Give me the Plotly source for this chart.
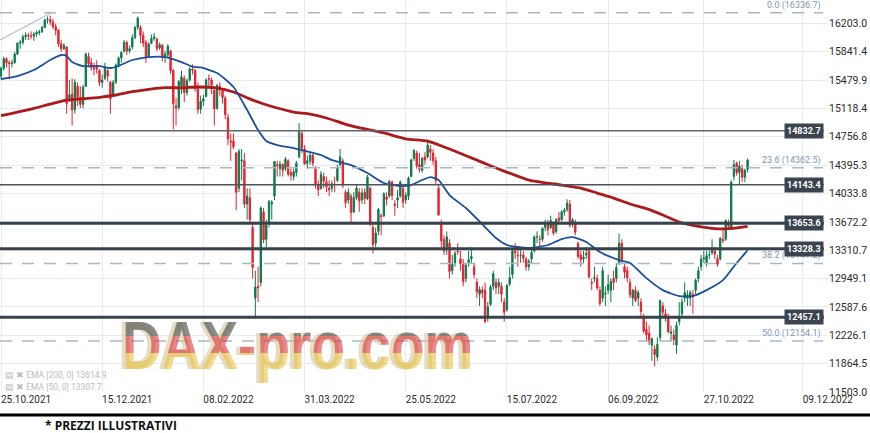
import plotly.graph_objects as go

# ---------------- data ----------------
opens = [15530,15630,15750,15700,15690,15700,15810,15950,15960,16030,
16050,16045,16040,16065,16085,16095,16150,16245,16250,16220,
16160,16110,15940,15880,15900,15250,15300,15100,15400,15260,
15170,15400,15780,15700,15640,15640,15600,15450,15500,15600,
15450,15300,15450,15670,15760,15850,15960,15850,15900,16020,
16150,16150,16050,15960,15780,15950,16010,16000,15890,15920,
15780,15800,15850,15600,15150,15130,15400,15500,15320,15480,
15620,15600,15370,15110,15210,15270,15500,15480,15350,15120,
15400,15350,15250,15000,14700,14700,14550,14100,14450,14450,
13900,13980,13600,12700,12850,12900,13800,13450,13650,13900,
14000,14400,14350,14400,14350,14450,14300,14250,14300,14500,
14800,14600,14420,14450,14520,14350,14150,14100,14250,14180,
14100,14100,14150,14200,14400,14450,14050,13950,14000,13800,
13980,14050,13950,14050,13970,14100,13600,13400,13550,13750,
13750,13990,14000,14180,13900,13950,14000,14100,13950,14000,
14250,14480,14550,14400,14330,14500,14500,14600,14550,14450,
14100,13650,13450,13350,13400,13050,13150,13300,13200,13150,
12950,13150,13200,13100,12900,12750,12800,12800,12450,12620,
12850,12900,12850,12850,12650,12550,12880,13000,13300,13250,
13250,13250,13200,13100,13200,13300,13480,13450,13450,13600,
13650,13600,13650,13550,13720,13700,13800,13830,13900,13650,
13650,13400,13250,13200,13250,13300,12900,12950,12950,12800,
12700,12750,12800,12800,12950,12950,13150,13400,13100,13050,
12900,12700,12800,12700,12650,12450,12300,12250,12100,12050,
11950,12200,12600,12500,12450,12250,12230,12100,12400,12500,
12700,12700,12700,12750,12800,12950,13100,13200,13150,13250,
13280,13300,13200,13200,13450,13450,13650,13600,14250,14420,
14300,14350,14240,14340]

highs = [15650,15780,15770,15730,15740,15840,15960,15990,16060,16090,
16080,16100,16090,16110,16120,16170,16260,16290,16300,16260,
16200,16130,15990,15950,15910,15480,15500,15490,15450,15400,
15420,15830,15830,15760,15700,15730,15620,15550,15700,15620,
15470,15480,15690,15780,15850,15990,15980,15920,16060,16170,
16290,16180,16100,15990,15960,16060,16080,16020,15960,15940,
15850,15940,15870,15620,15250,15480,15600,15540,15500,15650,
15680,15620,15450,15280,15290,15500,15550,15510,15360,15430,
15450,15360,15280,15050,14800,14800,14560,14600,14600,14550,
14100,14100,13650,13050,13100,13870,13850,13700,13950,13950,
14450,14450,14450,14420,14500,14470,14350,14350,14450,14930,
14830,14650,14520,14560,14540,14380,14200,14320,14300,14250,
14200,14200,14250,14400,14600,14480,14080,14100,14030,14050,
14150,14100,14100,14100,14270,14120,13650,13600,13850,13780,
14050,14050,14200,14200,13950,14080,14200,14120,14050,14250,
14480,14600,14580,14550,14500,14560,14720,14650,14600,14500,
14150,13700,13500,13550,13450,13250,13300,13400,13300,13200,
13150,13300,13350,13150,12950,12850,12850,12900,12650,12870,
13050,12950,12950,12900,12700,12880,13100,13320,13400,13350,
13320,13300,13220,13200,13350,13500,13550,13500,13600,13700,
13700,13750,13680,13720,13800,13820,13850,13960,13950,13720,
13700,13420,13300,13300,13350,13320,12950,13100,13000,12850,
13100,12850,13000,12950,13050,13150,13520,13450,13150,13100,
12950,12820,12850,12800,12700,12500,12400,12350,12200,12100,
12200,12680,12650,12560,12500,12350,12300,12400,12650,12700,
12900,12800,12800,12800,12950,13100,13250,13300,13300,13300,
13450,13350,13250,13480,13600,13700,13700,14200,14460,14440,
14450,14400,14350,14480]

lows = [15490,15600,15640,15490,15640,15690,15800,15880,15930,15990,
15990,16000,15980,16030,16050,16080,16140,16200,16180,16130,
16050,15900,15840,15860,15050,15200,14900,15050,15150,15120,
15120,15390,15640,15600,15540,15560,15400,15380,15480,15460,
15050,15280,15430,15640,15700,15830,15800,15820,15870,16000,
16120,15950,15900,15700,15760,15940,15980,15850,15860,15720,
15700,15760,15560,14850,14900,15100,15300,15200,15280,15460,
15550,15330,15050,15050,15150,15260,15380,15300,14900,15100,
15280,15180,14980,14650,14450,14600,13820,14050,14200,13850,
13700,13650,12950,12440,12650,12850,13400,13350,13600,13700,
13950,14250,14250,14250,14320,14250,14200,14200,14250,14480,
14550,14400,14350,14400,14380,14100,14000,14080,14100,14050,
14000,14050,14050,14180,14380,14100,13850,13900,13650,13780,
13950,13800,13900,13900,13950,13620,13270,13350,13500,13500,
13730,13880,13980,13950,13750,13850,13980,13850,13900,13950,
14240,14450,14350,14300,14300,14400,14480,14450,14400,14150,
13750,13350,13250,13250,12950,13000,13100,13250,13050,12850,
12900,13100,13150,12950,12700,12600,12700,12380,12400,12600,
12800,12750,12750,12650,12400,12530,12850,12950,13200,13100,
13150,13150,13050,13050,13150,13280,13400,13350,13420,13550,
13500,13580,13500,13520,13650,13680,13750,13800,13600,13600,
13500,13200,13100,13150,13200,12950,12800,12900,12800,12600,
12650,12600,12750,12650,12800,12900,13120,13150,12950,12900,
12700,12600,12650,12600,12450,12250,12150,12100,11900,11830,
11900,12150,12450,12400,12250,12150,12100,11990,12350,12450,
12650,12600,12600,12500,12750,12900,13050,13150,13100,13200,
13250,13200,13100,13180,13400,13430,13580,13580,14200,14260,
14150,14180,14180,14300]

closes = [15630,15750,15700,15690,15700,15810,15950,15960,16030,16050,
16045,16040,16065,16085,16095,16150,16245,16250,16220,16160,
16110,15940,15880,15920,15180,15290,15100,15450,15260,15170,
15390,15810,15690,15640,15620,15620,15450,15480,15640,15530,
15240,15450,15670,15760,15830,15960,15850,15880,16020,16150,
16270,16050,15950,15770,15940,16010,16030,15880,15930,15770,
15810,15910,15600,15180,15120,15460,15520,15320,15470,15620,
15610,15370,15100,15210,15240,15480,15490,15420,15110,15410,
15370,15260,15040,14730,14690,14630,14050,14570,14460,13900,
14000,13700,13090,12840,12830,13850,13440,13630,13930,13920,
14440,14390,14410,14330,14470,14280,14270,14310,14420,14820,
14610,14410,14450,14520,14420,14150,14080,14280,14190,14120,
14080,14160,14150,14360,14500,14140,13920,14050,13790,13980,
14100,13940,14040,13970,14240,13670,13380,13530,13830,13740,
14030,13960,14190,14010,13880,13980,14180,13920,14010,14230,
14460,14580,14390,14340,14480,14460,14650,14560,14450,14200,
13760,13430,13300,13480,13040,13130,13270,13290,13140,12910,
13120,13190,13230,13000,12780,12810,12770,12400,12590,12840,
13010,12830,12900,12750,12520,12860,12960,13300,13280,13240,
13250,13210,13100,13170,13280,13480,13480,13450,13590,13660,
13570,13690,13530,13700,13690,13800,13820,13910,13630,13700,
13540,13230,13190,13220,13270,12970,12890,12960,12830,12630,
13050,12760,12870,12910,12900,13090,13400,13190,13030,12960,
12740,12800,12670,12770,12530,12280,12230,12140,12180,11980,
12110,12670,12520,12470,12270,12270,12170,12350,12440,12650,
12770,12740,12770,12730,12930,13050,13200,13210,13240,13250,
13340,13260,13130,13460,13430,13690,13620,14180,14400,14300,
14380,14240,14330,14460]

# EMA lines (bar index, value)
ema200_idx = [0, 12, 18, 24, 30, 36, 42, 48, 54, 60, 66, 72, 79, 85, 91, 95, 101, 107, 113, 119,
              127, 134, 140, 148, 156, 164, 176, 183, 193, 205, 212, 218, 224, 230, 236, 242, 248,
              254, 260, 266, 273]
ema200_val = [15025, 15119, 15174, 15225, 15241, 15259, 15289, 15331, 15361, 15382, 15380, 15391,
              15378, 15327, 15240, 15187, 15123, 15072, 15046, 14996, 14906, 14850, 14805, 14730,
              14702, 14600, 14430, 14332, 14205, 14141, 14103, 14039, 13975, 13900, 13840, 13760,
              13670, 13620, 13590, 13585, 13615]
ema50_idx = [0, 6, 12, 18, 22, 24, 26, 30, 36, 40, 42, 48, 54, 60, 66, 70, 73, 79, 85, 90,
             94, 97, 101, 107, 113, 117, 121, 128, 134, 140, 146, 150, 154, 157, 160, 164, 170,
             177, 181, 185, 193, 200, 205, 209, 214, 219, 226, 230, 236, 242, 248, 253, 258, 264,
             269, 273]
ema50_val = [15493, 15531, 15607, 15735, 15799, 15786, 15709, 15658, 15658, 15633, 15646, 15735,
             15773, 15773, 15709, 15650, 15640, 15569, 15391, 15097, 14842, 14702, 14651, 14613,
             14562, 14524, 14460, 14396, 14294, 14167, 14128, 14141, 14205, 14243, 14205, 14014,
             13848, 13606, 13466, 13377, 13339, 13377, 13453, 13478, 13415, 13287, 13185, 13147,
             12955, 12802, 12726, 12726, 12802, 12930, 13147, 13308]

x_tick_pos = [0, 37, 74, 111, 148, 185, 222, 257, 293.2]
x_tick_labels = ["25.10.2021", "15.12.2021", "08.02.2022", "31.03.2022", "25.05.2022",
                 "15.07.2022", "06.09.2022", "27.10.2022", "09.12.2022"]
y_tick_vals = [11503.0, 11864.5, 12226.1, 12587.6, 12949.1, 13310.7, 13672.2, 14033.8,
               14395.3, 14756.8, 15118.4, 15479.9, 15841.4, 16203.0]

fib_levels = [16336.7, 14362.5, 13141.2, 12154.1]
fib_names = ["0.0", "23.6", "38.2", "50.0"]
sr_levels = [14832.7, 14143.4, 13653.6, 13328.3, 12457.1]
sr_widths = [1.5, 1.5, 3, 3, 3]
sr_colors = ["#5d666e", "#4b545c", "#36434c", "#36434c", "#36434c"]
trend_start = (-0.37, 15990)
trend_end = (18.3, 16336.7)

legend_lines = ["EMA [200, 0] 13614.9", "EMA [50, 0] 13307.7"]

GREEN = "#0b7a4b"
RED = "#e8202f"
FONT = "Roboto, Arial, sans-serif"

x_idx = list(range(len(closes)))

fig = go.Figure()
fig.add_trace(go.Candlestick(
    x=x_idx, open=opens, high=highs, low=lows, close=closes,
    increasing=dict(line=dict(color=GREEN, width=1), fillcolor=GREEN),
    decreasing=dict(line=dict(color=RED, width=1), fillcolor=RED),
    whiskerwidth=0, showlegend=False, hoverinfo="skip"))
fig.add_trace(go.Scatter(x=ema200_idx, y=ema200_val, mode="lines",
                         line=dict(color="#ab1a1c", width=2.8, shape="spline", smoothing=0.6),
                         showlegend=False, hoverinfo="skip"))
fig.add_trace(go.Scatter(x=ema50_idx, y=ema50_val, mode="lines",
                         line=dict(color="#1a4f9c", width=1.8, shape="spline", smoothing=0.6),
                         showlegend=False, hoverinfo="skip"))

shapes = []
annotations = []
# fibonacci dashed levels
for lv, nm in zip(fib_levels, fib_names):
    shapes.append(dict(type="line", xref="paper", x0=0, x1=0.994, yref="y", y0=lv, y1=lv,
                       line=dict(color="#a9b7ca", width=1.5, dash="12px,10px"), layer="above"))
    annotations.append(dict(xref="paper", x=0.994, xanchor="right", yref="y", y=lv,
                            yanchor="bottom", yshift=0, showarrow=False,
                            text=f"{nm} ({lv:.1f})",
                            font=dict(family=FONT, size=9, color="#7f97b7")))
# diagonal fib anchor line
shapes.append(dict(type="line", xref="x", yref="y", x0=trend_start[0], y0=trend_start[1],
                   x1=trend_end[0], y1=trend_end[1], line=dict(color="#a3b1c4", width=1)))
# support / resistance
for lv, w, c in zip(sr_levels, sr_widths, sr_colors):
    shapes.append(dict(type="line", xref="paper", x0=0, x1=0.995, yref="y", y0=lv, y1=lv,
                       line=dict(color=c, width=w), layer="above"))
    annotations.append(dict(xref="paper", x=0.995, xanchor="right", yref="y", y=lv,
                            yanchor="middle", showarrow=False, text=f"<b>{lv:.1f}</b>",
                            bgcolor="#3a4550", borderpad=2,
                            font=dict(family=FONT, size=9, color="#ffffff")))
# bottom black rule
shapes.append(dict(type="line", xref="paper", x0=0, x1=870 / 828, yref="paper",
                   y0=-0.0587, y1=-0.0587, line=dict(color="#000000", width=3)))

# legend text
for i, t in enumerate(legend_lines):
    annotations.append(dict(xref="paper", x=0.004, xanchor="left", yref="paper",
                            y=0.0434 - i * 0.0306, yanchor="middle", showarrow=False,
                            text="▤ ✖ " + t,
                            font=dict(family=FONT, size=8.5, color="#b8bdc3")))
# footer
annotations.append(dict(xref="paper", x=43 / 828, xanchor="left", yref="paper", y=-0.0842,
                        yanchor="middle", showarrow=False, text="<b>* PREZZI ILLUSTRATIVI</b>",
                        font=dict(family="Open Sans, sans-serif", size=12, color="#111111")))
# watermark: shadow then main
WM_SHADOW = len(annotations)
annotations.append(dict(xref="paper", x=0.3593, xanchor="center", yref="paper", y=0.12,
                        yanchor="middle", xshift=-4, yshift=0, showarrow=False,
                        text="DAX-pro.com",
                        font=dict(family="Liberation Sans Narrow, Arial Narrow, sans-serif",
                                  size=55, color="rgba(214,198,150,0.6)", weight="bold")))
WM_INDEX = len(annotations)
annotations.append(dict(xref="paper", x=0.3593, xanchor="center", yref="paper", y=0.12,
                        yanchor="middle", showarrow=False, text="DAX-pro.com",
                        font=dict(family="Liberation Sans Narrow, Arial Narrow, sans-serif",
                                  size=55, color="rgba(210,90,90,0.55)", weight="bold")))

fig.update_layout(
    width=870, height=433,
    margin=dict(l=0, r=42, t=0, b=41),
    paper_bgcolor="#ffffff", plot_bgcolor="#ffffff",
    showlegend=False,
    shapes=shapes, annotations=annotations,
    xaxis=dict(range=[-0.37, 302.4], tickvals=x_tick_pos, ticktext=x_tick_labels,
               showgrid=True, gridcolor="#e8ebef", gridwidth=1, zeroline=False,
               ticks="", ticklabelshift=25, tickfont=dict(family=FONT, size=10, color="#2b2b2b"),
               rangeslider=dict(visible=False), showline=False, automargin=False),
    yaxis=dict(side="right", range=[11503, 16500], tickvals=y_tick_vals,
               ticktext=[f"{v:.1f}" for v in y_tick_vals],
               showgrid=True, gridcolor="#e8ebef", gridwidth=1, zeroline=False, ticks="",
               tickfont=dict(family=FONT, size=10.5, color="#2b2b2b"), automargin=False,
               showline=False),
)

post = """
document.body.style.margin = '0';
document.body.style.padding = '0';
var gd = document.getElementById('{plot_id}');
var ns = 'http://www.w3.org/2000/svg';
var svgs = gd.querySelectorAll('svg.main-svg');
var svg = svgs[svgs.length - 1];
if (!document.getElementById('daxflag')) {
  var defs = document.createElementNS(ns, 'defs');
  var lg = document.createElementNS(ns, 'linearGradient');
  lg.setAttribute('id', 'daxflag');
  lg.setAttribute('x1', '0'); lg.setAttribute('y1', '0');
  lg.setAttribute('x2', '0'); lg.setAttribute('y2', '1');
  var stops = [[0, '#5a5a5a', 0.7], [0.38, '#5a5a5a', 0.7], [0.38, '#d8262c', 0.55],
               [0.60, '#d8262c', 0.55], [0.60, '#e6c244', 0.6], [1, '#e6c244', 0.6]];
  stops.forEach(function (s) {
    var st = document.createElementNS(ns, 'stop');
    st.setAttribute('offset', s[0]);
    st.setAttribute('stop-color', s[1]);
    st.setAttribute('stop-opacity', s[2]);
    lg.appendChild(st);
  });
  defs.appendChild(lg);
  svg.insertBefore(defs, svg.firstChild);
}
[SHIDX, WMIDX].forEach(function (k) {
  var t = gd.querySelector('g.annotation[data-index="' + k + '"] text.annotation-text');
  if (!t) return;
  t.style.transformBox = 'fill-box';
  t.style.transformOrigin = 'center';
  t.style.transform = 'scaleY(1.25)';
  if (k === WMIDX) { t.style.fill = 'url(#daxflag)'; t.style.fillOpacity = '1'; }
});
""".replace("WMIDX", str(WM_INDEX)).replace("SHIDX", str(WM_SHADOW))

fig.write_html("out.html", config={"displayModeBar": False}, post_script=post)
